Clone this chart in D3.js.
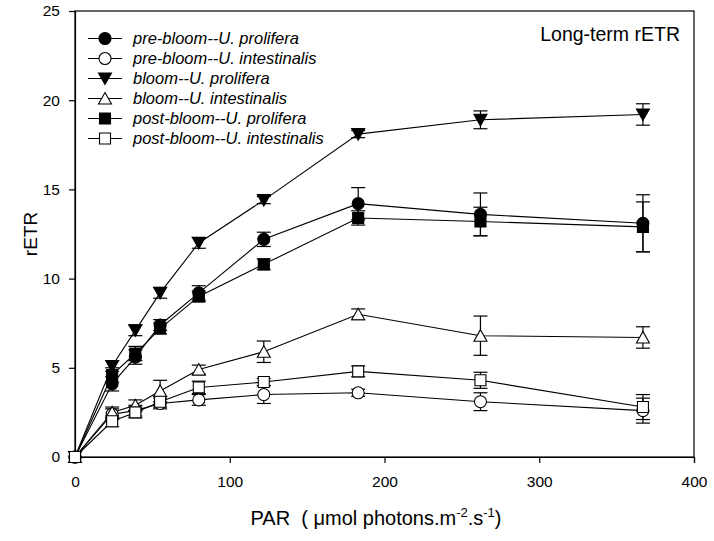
<!DOCTYPE html>
<html>
<head>
<meta charset="utf-8">
<script src="https://cdn.jsdelivr.net/npm/d3@7/dist/d3.min.js"></script>
<style>
  html, body { margin: 0; padding: 0; background: #fff; }
  svg { display: block; font-family: "Liberation Sans", Arial, sans-serif; }
</style>
</head>
<body>
<svg id="chart" width="714" height="541"></svg>
<script>
// ---- data ----
const par = [0, 24, 39, 55, 80, 122, 183, 262, 367];
const seriesNames = [
  "pre-bloom--U. prolifera",
  "pre-bloom--U. intestinalis",
  "bloom--U. prolifera",
  "bloom--U. intestinalis",
  "post-bloom--U. prolifera",
  "post-bloom--U. intestinalis"
];
const preProlifera      = [0, 4.1, 5.6, 7.4, 9.2, 12.2, 14.2, 13.6, 13.1];
const preProliferaErr   = [0, 0.4, 0.4, 0.3, 0.4, 0.4, 0.9, 1.2, 1.6];
const preIntestinalis    = [0, 2.4, 2.6, 3.0, 3.2, 3.5, 3.6, 3.1, 2.6];
const preIntestinalisErr = [0, 0.3, 0.3, 0.3, 0.3, 0.5, 0.2, 0.5, 0.7];
const bloomProlifera     = [0, 5.1, 7.1, 9.2, 12.0, 14.4, 18.1, 18.9, 19.2];
const bloomProliferaErr  = [0, 0.3, 0.3, 0.3, 0.3, 0.2, 0.2, 0.5, 0.6];
const bloomIntestinalis    = [0, 2.5, 2.9, 3.7, 4.9, 5.9, 8.0, 6.8, 6.7];
const bloomIntestinalisErr = [0, 0.3, 0.3, 0.6, 0.25, 0.6, 0.3, 1.1, 0.6];
const postProlifera      = [0, 4.6, 5.8, 7.2, 9.0, 10.8, 13.4, 13.2, 12.9];
const postProliferaErr   = [0, 0.4, 0.4, 0.3, 0.3, 0.3, 0.4, 0.8, 1.4];
const postIntestinalis    = [0, 2.0, 2.5, 3.1, 3.9, 4.2, 4.8, 4.3, 2.8];
const postIntestinalisErr = [0, 0.3, 0.3, 0.3, 0.35, 0.2, 0.3, 0.45, 0.7];
const xTicks = [0, 100, 200, 300, 400];
const yTicks = [0, 5, 10, 15, 20, 25];
const chartTitle = "Long-term rETR";

const series = [
  { name: seriesNames[0], y: preProlifera, e: preProliferaErr, shape: "circle", filled: true },
  { name: seriesNames[1], y: preIntestinalis, e: preIntestinalisErr, shape: "circle", filled: false },
  { name: seriesNames[2], y: bloomProlifera, e: bloomProliferaErr, shape: "down", filled: true },
  { name: seriesNames[3], y: bloomIntestinalis, e: bloomIntestinalisErr, shape: "up", filled: false },
  { name: seriesNames[4], y: postProlifera, e: postProliferaErr, shape: "square", filled: true },
  { name: seriesNames[5], y: postIntestinalis, e: postIntestinalisErr, shape: "square", filled: false }
];

// ---- layout ----
const L = 75, R = 694, T = 11, B = 457;
const svg = d3.select("#chart");
const x = d3.scaleLinear().domain([0, 400]).range([L, R]);
const y = d3.scaleLinear().domain([0, 25]).range([B, T]);

function shapePath(shape) {
  switch (shape) {
    case "circle": { const p = d3.path(); p.arc(0, 0, 6, 0, 2 * Math.PI); p.closePath(); return p.toString(); }
    case "square": return "M-5.5,-5.5H5.5V5.5H-5.5Z";
    case "down": return "M-6.5,-5.5H6.5L0,6Z";
    case "up": return "M-6.5,5.5H6.5L0,-6Z";
  }
}

// frame
svg.append("rect").attr("x", L).attr("y", T).attr("width", R - L).attr("height", B - T)
  .attr("fill", "none").attr("stroke", "#000").attr("stroke-width", 1.2);

// axes
const xAxis = svg.append("g").attr("transform", `translate(0,${B})`)
  .call(d3.axisBottom(x).tickValues(xTicks).tickSize(6).tickPadding(13).tickFormat(d3.format("d")));
const yAxis = svg.append("g").attr("transform", `translate(${L},0)`)
  .call(d3.axisLeft(y).tickValues(yTicks).tickSize(6).tickPadding(9).tickFormat(d3.format("d")));
[xAxis, yAxis].forEach(g => {
  g.select(".domain").attr("stroke-width", 1.2);
  g.selectAll(".tick line").attr("stroke-width", 1.2);
  g.selectAll(".tick text").attr("font-size", 15.5).attr("font-family", "Liberation Sans, Arial, sans-serif").attr("fill", "#000");
});

// axis titles
const xt = svg.append("text").attr("x", 376).attr("y", 525).attr("text-anchor", "middle")
  .attr("font-size", 20).attr("fill", "#000").attr("xml:space", "preserve");
xt.append("tspan").text("PAR\u00a0\u00a0(\u00a0");
xt.append("tspan").text("\u03bcmol photons.m");
xt.append("tspan").attr("font-size", 13).attr("dy", -8).text("-2");
xt.append("tspan").attr("dy", 8).text(".s");
xt.append("tspan").attr("font-size", 13).attr("dy", -8).text("-1");
xt.append("tspan").attr("dy", 8).text(")");

svg.append("text").attr("transform", `translate(37,${(T + B) / 2}) rotate(-90)`)
  .attr("text-anchor", "middle").attr("font-size", 19).attr("fill", "#000").text("rETR");

svg.append("text").attr("x", 680).attr("y", 41).attr("text-anchor", "end")
  .attr("font-size", 19.5).attr("fill", "#000").text(chartTitle);

// data
const line = d3.line().x(d => x(d[0])).y(d => y(d[1]));
const plot = svg.append("g");
series.forEach(s => {
  const pts = par.map((p, i) => [p, s.y[i], s.e[i]]);
  plot.append("path").attr("d", line(pts)).attr("fill", "none").attr("stroke", "#000").attr("stroke-width", 1.1);
});
series.forEach(s => {
  const pts = par.map((p, i) => [p, s.y[i], s.e[i]]).filter(d => d[2] > 0);
  const g = plot.append("g").attr("stroke", "#000").attr("stroke-width", 1.2);
  pts.forEach(d => {
    const cx = x(d[0]), y1 = y(d[1] + d[2]), y2 = y(d[1] - d[2]);
    g.append("line").attr("x1", cx).attr("x2", cx).attr("y1", y1).attr("y2", y2);
    g.append("line").attr("x1", cx - 7).attr("x2", cx + 7).attr("y1", y1).attr("y2", y1);
    g.append("line").attr("x1", cx - 7).attr("x2", cx + 7).attr("y1", y2).attr("y2", y2);
  });
});
series.forEach(s => {
  const pts = par.map((p, i) => [p, s.y[i]]);
  plot.selectAll(null).data(pts).enter().append("path")
    .attr("d", shapePath(s.shape))
    .attr("transform", d => `translate(${x(d[0])},${y(d[1])})`)
    .attr("fill", s.filled ? "#000" : "#fff").attr("stroke", "#000").attr("stroke-width", 1.1);
});

// legend
const leg = svg.append("g");
series.forEach((s, i) => {
  const yy = 38.5 + i * 20;
  leg.append("line").attr("x1", 88).attr("x2", 122).attr("y1", yy).attr("y2", yy)
    .attr("stroke", "#000").attr("stroke-width", 1.2);
  leg.append("path").attr("d", shapePath(s.shape)).attr("transform", `translate(105,${yy})`)
    .attr("fill", s.filled ? "#000" : "#fff").attr("stroke", "#000").attr("stroke-width", 1.1);
  leg.append("text").attr("x", 133).attr("y", yy + 5.5).attr("font-size", 16.5).attr("font-style", "italic")
    .attr("fill", "#000").text(s.name);
});
</script>
</body>
</html>
